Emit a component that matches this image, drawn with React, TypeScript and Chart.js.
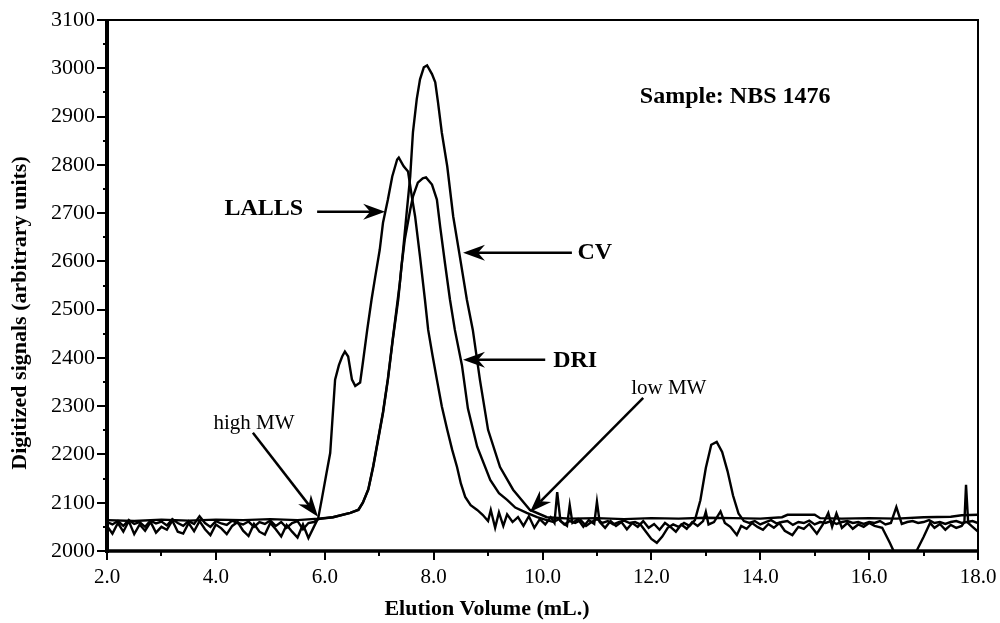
import { useEffect, useRef } from 'react';
import { Chart, registerables } from 'chart.js';

Chart.register(...registerables);

const FONT = '"Liberation Serif", "Times New Roman", Times, serif';

// x-axis categories / ticks
const X_MIN = 2;
const X_MAX = 18;
const Y_MIN = 2000;
const Y_MAX = 3100;

// [elution volume (mL), signal]
const lallsTrace: [number, number][] = [
  [2.0, 2052], [2.1, 2036], [2.2, 2058], [2.3, 2040], [2.4, 2062], [2.5, 2035], [2.6, 2055], [2.7, 2042], [2.8, 2060], [2.9, 2038],
  [3.0, 2050], [3.1, 2044], [3.2, 2063], [3.3, 2040], [3.4, 2036], [3.5, 2058], [3.6, 2041], [3.7, 2062], [3.8, 2045], [3.9, 2033],
  [4.0, 2055], [4.1, 2047], [4.2, 2035], [4.3, 2052], [4.4, 2060], [4.5, 2042], [4.6, 2031], [4.7, 2056], [4.8, 2040], [4.9, 2034],
  [5.0, 2058], [5.1, 2045], [5.2, 2030], [5.3, 2054], [5.4, 2040], [5.5, 2028], [5.6, 2055], [5.7, 2027], [5.8, 2050],
  [5.88, 2068], [5.95, 2110], [6.03, 2160], [6.1, 2203], [6.19, 2355], [6.26, 2385], [6.32, 2403], [6.37, 2413], [6.43, 2403],
  [6.5, 2355], [6.56, 2342], [6.65, 2349], [6.7, 2390], [6.78, 2458], [6.86, 2521], [6.93, 2570], [7.01, 2624], [7.07, 2680],
  [7.16, 2728], [7.24, 2776], [7.33, 2811], [7.36, 2815], [7.45, 2797], [7.53, 2786], [7.6, 2734], [7.66, 2693], [7.75, 2610],
  [7.84, 2521], [7.9, 2458], [7.98, 2405], [8.06, 2355], [8.15, 2300], [8.25, 2251], [8.34, 2210], [8.43, 2174], [8.5, 2140],
  [8.58, 2112], [8.68, 2095], [8.8, 2085], [8.9, 2075], [9.0, 2062], [9.05, 2085], [9.13, 2048], [9.2, 2080], [9.28, 2052],
  [9.35, 2076], [9.45, 2060], [9.55, 2070], [9.65, 2052], [9.75, 2072], [9.85, 2048], [9.95, 2066], [10.05, 2055], [10.15, 2070],
  [10.22, 2058], [10.27, 2122], [10.33, 2062], [10.45, 2052], [10.5, 2095], [10.55, 2058], [10.65, 2066], [10.75, 2050],
  [10.85, 2064], [10.95, 2056], [11.0, 2102], [11.05, 2060], [11.15, 2048], [11.25, 2062], [11.35, 2052], [11.45, 2060],
  [11.55, 2045], [11.65, 2058], [11.75, 2050], [11.85, 2062], [11.95, 2048], [12.05, 2056], [12.15, 2044], [12.25, 2058],
  [12.35, 2050], [12.45, 2040], [12.55, 2055], [12.65, 2046], [12.75, 2060], [12.85, 2052], [12.95, 2062], [13.0, 2081],
  [13.05, 2055], [13.15, 2060], [13.27, 2082], [13.35, 2058], [13.45, 2050], [13.57, 2033], [13.65, 2052], [13.75, 2046],
  [13.85, 2058], [13.95, 2050], [14.05, 2044], [14.15, 2056], [14.25, 2048], [14.35, 2058], [14.45, 2042], [14.59, 2033],
  [14.7, 2050], [14.8, 2046], [14.9, 2056], [15.04, 2036], [15.15, 2055], [15.25, 2079], [15.32, 2050], [15.4, 2078],
  [15.5, 2048], [15.6, 2058], [15.7, 2046], [15.8, 2055], [15.9, 2050], [16.0, 2058], [16.1, 2052], [16.24, 2048],
  [16.38, 2017], [16.45, 2000], [16.55, 1985], [16.7, 1980], [16.82, 1990], [16.88, 2002], [17.0, 2029], [17.12, 2058],
  [17.2, 2048], [17.3, 2056], [17.4, 2044], [17.5, 2054], [17.6, 2048], [17.7, 2052], [17.75, 2060], [17.78, 2137],
  [17.82, 2058], [17.9, 2050], [18.0, 2040],
];

const driTrace: [number, number][] = [
  [2.0, 2060], [2.1, 2055], [2.2, 2062], [2.3, 2052], [2.4, 2064], [2.5, 2056], [2.6, 2060], [2.7, 2050], [2.8, 2063], [2.9, 2057],
  [3.0, 2061], [3.1, 2053], [3.2, 2066], [3.3, 2058], [3.4, 2052], [3.5, 2062], [3.6, 2056], [3.7, 2072], [3.8, 2058], [3.9, 2050],
  [4.0, 2062], [4.1, 2057], [4.2, 2054], [4.3, 2063], [4.4, 2058], [4.5, 2055], [4.6, 2061], [4.7, 2050], [4.8, 2060], [4.9, 2056],
  [5.0, 2063], [5.1, 2052], [5.2, 2060], [5.3, 2048], [5.4, 2058], [5.5, 2062], [5.6, 2045], [5.7, 2058], [5.8, 2060],
  [5.88, 2066], [6.15, 2070], [6.47, 2079], [6.62, 2085], [6.7, 2100], [6.8, 2127], [6.89, 2174], [6.98, 2230], [7.07, 2286],
  [7.16, 2355], [7.25, 2438], [7.35, 2521], [7.41, 2590], [7.47, 2645], [7.57, 2707], [7.62, 2734], [7.71, 2763], [7.8, 2772],
  [7.86, 2774], [7.97, 2759], [8.06, 2728], [8.12, 2672], [8.21, 2595], [8.3, 2521], [8.39, 2458], [8.52, 2385], [8.63, 2295],
  [8.8, 2216], [9.04, 2147], [9.2, 2120], [9.35, 2106], [9.5, 2090], [9.71, 2079], [9.9, 2070], [10.08, 2064],
  [10.2, 2060], [10.3, 2066], [10.4, 2055], [10.5, 2062], [10.6, 2058], [10.7, 2064], [10.8, 2052], [10.9, 2060], [11.0, 2066],
  [11.1, 2058], [11.2, 2062], [11.3, 2055], [11.4, 2060], [11.5, 2063], [11.6, 2058], [11.7, 2060], [11.8, 2055], [11.9, 2040],
  [12.0, 2025], [12.1, 2017], [12.2, 2030], [12.3, 2048], [12.4, 2055], [12.5, 2050], [12.6, 2058], [12.7, 2052], [12.8, 2064],
  [12.9, 2105], [13.0, 2172], [13.1, 2220], [13.2, 2226], [13.3, 2205], [13.4, 2165], [13.5, 2115], [13.6, 2078], [13.7, 2062],
  [13.8, 2058], [13.9, 2062], [14.0, 2055], [14.1, 2060], [14.2, 2064], [14.3, 2057], [14.4, 2060], [14.5, 2062], [14.6, 2054],
  [14.7, 2060], [14.8, 2058], [14.9, 2063], [15.0, 2055], [15.1, 2060], [15.2, 2058], [15.3, 2062], [15.4, 2056], [15.5, 2060],
  [15.6, 2062], [15.7, 2058], [15.8, 2060], [15.9, 2056], [16.0, 2060], [16.1, 2058], [16.2, 2062], [16.3, 2055], [16.4, 2058],
  [16.5, 2091], [16.6, 2056], [16.7, 2060], [16.8, 2062], [16.9, 2058], [17.0, 2060], [17.1, 2064], [17.2, 2058], [17.3, 2060],
  [17.4, 2056], [17.5, 2060], [17.6, 2062], [17.7, 2058], [17.8, 2060], [17.9, 2062], [18.0, 2058],
];

const cvTrace: [number, number][] = [
  [2.0, 2064], [2.5, 2062], [3.0, 2065], [3.5, 2063], [4.0, 2065], [4.5, 2064], [5.0, 2066], [5.5, 2064], [5.88, 2067],
  [6.15, 2070], [6.47, 2079], [6.62, 2086], [6.7, 2100], [6.8, 2128], [6.89, 2176], [6.98, 2232], [7.07, 2288], [7.16, 2357],
  [7.25, 2440], [7.38, 2556], [7.44, 2624], [7.51, 2707], [7.57, 2776], [7.62, 2867], [7.69, 2936], [7.75, 2977], [7.82, 3002],
  [7.88, 3006], [7.97, 2988], [8.03, 2971], [8.08, 2930], [8.15, 2867], [8.25, 2797], [8.36, 2693], [8.47, 2618], [8.61, 2521],
  [8.72, 2458], [8.85, 2355], [9.0, 2251], [9.22, 2174], [9.46, 2127], [9.77, 2085], [10.08, 2070], [10.5, 2067], [11.0, 2068],
  [11.5, 2066], [12.0, 2068], [12.5, 2067], [13.0, 2069], [13.5, 2068], [14.0, 2067], [14.4, 2070], [14.5, 2075], [15.0, 2075],
  [15.1, 2068], [15.5, 2067], [16.0, 2068], [16.5, 2067], [17.0, 2070], [17.5, 2071], [17.7, 2074], [18.0, 2075],
];

const xTitle = 'Elution Volume (mL.)';
const yTitle = 'Digitized signals (arbitrary units)';

// annotations in data units
const textLabels = [
  { text: 'Sample: NBS 1476', x: 13.54, y: 2940, bold: true, size: 24 },
  { text: 'LALLS', x: 4.88, y: 2708, bold: true, size: 24 },
  { text: 'CV', x: 10.96, y: 2617, bold: true, size: 24 },
  { text: 'DRI', x: 10.6, y: 2394, bold: true, size: 24 },
  { text: 'high MW', x: 4.7, y: 2264, bold: false, size: 21 },
  { text: 'low MW', x: 12.32, y: 2336, bold: false, size: 21 },
];

const arrows = [
  { x1: 5.86, y1: 2703, x2: 7.11, y2: 2703 },
  { x1: 10.54, y1: 2618, x2: 8.54, y2: 2618 },
  { x1: 10.05, y1: 2396, x2: 8.54, y2: 2396 },
  { x1: 4.68, y1: 2245, x2: 5.876, y2: 2071 },
  { x1: 11.85, y1: 2317, x2: 9.77, y2: 2081 },
];

function drawArrow(ctx: CanvasRenderingContext2D, x1: number, y1: number, x2: number, y2: number) {
  const a = Math.atan2(y2 - y1, x2 - x1);
  const dx = Math.cos(a);
  const dy = Math.sin(a);
  const L = 22;
  const W = 8;
  const N = 15;
  ctx.beginPath();
  ctx.moveTo(x1, y1);
  ctx.lineTo(x2 - dx * N, y2 - dy * N);
  ctx.stroke();
  ctx.beginPath();
  ctx.moveTo(x2, y2);
  ctx.lineTo(x2 - dx * L - dy * W, y2 - dy * L + dx * W);
  ctx.lineTo(x2 - dx * N, y2 - dy * N);
  ctx.lineTo(x2 - dx * L + dy * W, y2 - dy * L - dx * W);
  ctx.closePath();
  ctx.fill();
}

const decorPlugin = {
  id: 'decor',
  afterDraw(chart: any) {
    const { ctx, chartArea, scales } = chart;
    const { left, right, top, bottom } = chartArea;
    const xs = scales.x;
    const ys = scales.y;
    ctx.save();
    ctx.strokeStyle = '#000';
    ctx.fillStyle = '#000';
    ctx.lineCap = 'butt';

    // frame
    ctx.lineWidth = 2;
    ctx.beginPath();
    ctx.moveTo(left, top);
    ctx.lineTo(right, top);
    ctx.lineTo(right, bottom);
    ctx.stroke();
    ctx.lineWidth = 4;
    ctx.beginPath();
    ctx.moveTo(left, top - 1);
    ctx.lineTo(left, bottom + 2);
    ctx.stroke();
    ctx.lineWidth = 3.5;
    ctx.beginPath();
    ctx.moveTo(left - 2, bottom);
    ctx.lineTo(right + 1, bottom);
    ctx.stroke();

    // ticks
    ctx.lineWidth = 2;
    for (let v = Y_MIN; v <= Y_MAX; v += 50) {
      const py = Math.round(ys.getPixelForValue(v));
      const len = v % 100 === 0 ? 10 : 4;
      ctx.beginPath();
      ctx.moveTo(left - len, py);
      ctx.lineTo(left, py);
      ctx.stroke();
    }
    for (let v = X_MIN; v <= X_MAX; v += 1) {
      const px = Math.round(xs.getPixelForValue(v));
      const len = v % 2 === 0 ? 9 : 5;
      ctx.beginPath();
      ctx.moveTo(px, bottom);
      ctx.lineTo(px, bottom + len);
      ctx.stroke();
    }

    // arrows
    ctx.lineWidth = 2.5;
    for (const a of arrows) {
      drawArrow(ctx, xs.getPixelForValue(a.x1), ys.getPixelForValue(a.y1), xs.getPixelForValue(a.x2), ys.getPixelForValue(a.y2));
    }

    // text labels
    ctx.textAlign = 'center';
    ctx.textBaseline = 'middle';
    for (const t of textLabels) {
      ctx.font = `${t.bold ? 'bold ' : ''}${t.size}px ${FONT}`;
      ctx.fillText(t.text, xs.getPixelForValue(t.x), ys.getPixelForValue(t.y));
    }

    // axis titles
    ctx.font = `bold 22px ${FONT}`;
    ctx.fillText(xTitle, 487, 609);
    ctx.save();
    ctx.translate(20, 313);
    ctx.rotate(-Math.PI / 2);
    ctx.fillText(yTitle, 0, 0);
    ctx.restore();

    ctx.restore();
  },
};

export default function App() {
  const canvasRef = useRef<HTMLCanvasElement | null>(null);

  useEffect(() => {
    const canvas = canvasRef.current;
    if (!canvas) return;
    const mk = (label: string, trace: [number, number][]) => ({
      label,
      data: trace.map(([x, y]) => ({ x, y })),
      borderColor: '#000',
      backgroundColor: '#000',
      borderWidth: 2.4,
      pointRadius: 0,
      tension: 0,
      fill: false,
    });
    const chart = new Chart(canvas, {
      type: 'line',
      data: {
        datasets: [mk('LALLS', lallsTrace), mk('DRI', driTrace), mk('CV', cvTrace)],
      },
      options: {
        responsive: false,
        animation: false,
        devicePixelRatio: 1,
        layout: { padding: { left: 0, top: 20, right: 22, bottom: 0 } },
        plugins: { legend: { display: false }, tooltip: { enabled: false }, title: { display: false } },
        events: [],
        scales: {
          x: {
            type: 'linear',
            min: X_MIN,
            max: X_MAX,
            grid: { display: false },
            border: { display: false },
            ticks: {
              stepSize: 1,
              autoSkip: false,
              maxRotation: 0,
              padding: 6,
              color: '#000',
              font: { family: FONT, size: 21 },
              callback: (v: any) => (Number(v) % 2 === 0 ? Number(v).toFixed(1) : ''),
            },
            afterFit: (s: any) => {
              s.height = 72;
              s.paddingLeft = 0;
              s.paddingRight = 0;
            },
          },
          y: {
            type: 'linear',
            min: Y_MIN,
            max: Y_MAX,
            grid: { display: false },
            border: { display: false },
            ticks: {
              stepSize: 50,
              autoSkip: false,
              padding: 4,
              color: '#000',
              font: { family: FONT, size: 22 },
              callback: (v: any) => (Number(v) % 100 === 0 ? String(v) : ''),
            },
            afterFit: (s: any) => {
              s.width = 107;
              s.paddingTop = 0;
              s.paddingBottom = 0;
            },
          },
        },
      },
      plugins: [decorPlugin],
    });
    return () => chart.destroy();
  }, []);

  return (
    <div style={{ position: 'absolute', left: 0, top: 0, width: 1000, height: 623, background: '#fff' }}>
      <canvas ref={canvasRef} width={1000} height={623} style={{ display: 'block' }} />
    </div>
  );
}
